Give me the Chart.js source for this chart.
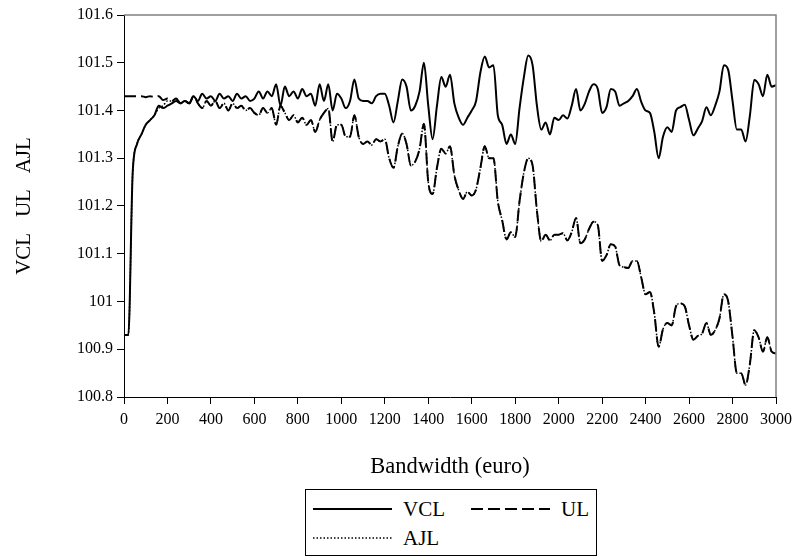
<!DOCTYPE html>
<html>
<head>
<meta charset="utf-8">
<title>VCL UL AJL</title>
<script src="https://cdn.jsdelivr.net/npm/chart.js@4.4.1/dist/chart.umd.min.js"></script>
<style>
  body { margin: 0; background: #fff; }
  .wrap { position: relative; width: 798px; height: 559px; }
  .legend_box {
    position: absolute; left: 305px; top: 489px; width: 292px; height: 67px;
    box-sizing: border-box; border: 1px solid #000; background: #fff;
    font-family: "Liberation Serif", "Times New Roman", serif; font-size: 21px; color: #000;
  }
  .legend_item { position: absolute; height: 24px; display: flex; align-items: center; white-space: nowrap; }
  .legend_item svg { display: block; margin-right: 11px; }
</style>
</head>
<body>
<div class="wrap">
  <canvas id="chart" width="798" height="559"></canvas>
  <div class="legend_box" id="legend"></div>
</div>
<script>
const bandwidth = [
    0, 20, 40, 60, 80, 100, 120, 140, 160, 180,
    200, 220, 240, 260, 280, 300, 320, 340, 360, 380,
    400, 420, 440, 460, 480, 500, 520, 540, 560, 580,
    600, 620, 640, 660, 680, 700, 720, 740, 760, 780,
    800, 820, 840, 860, 880, 900, 920, 940, 960, 980,
    1000, 1020, 1040, 1060, 1080, 1100, 1120, 1140, 1160, 1180,
    1200, 1220, 1240, 1260, 1280, 1300, 1320, 1340, 1360, 1380,
    1400, 1420, 1440, 1460, 1480, 1500, 1520, 1540, 1560, 1580,
    1600, 1620, 1640, 1660, 1680, 1700, 1720, 1740, 1760, 1780,
    1800, 1820, 1840, 1860, 1880, 1900, 1920, 1940, 1960, 1980,
    2000, 2020, 2040, 2060, 2080, 2100, 2120, 2140, 2160, 2180,
    2200, 2220, 2240, 2260, 2280, 2300, 2320, 2340, 2360, 2380,
    2400, 2420, 2440, 2460, 2480, 2500, 2520, 2540, 2560, 2580,
    2600, 2620, 2640, 2660, 2680, 2700, 2720, 2740, 2760, 2780,
    2800, 2820, 2840, 2860, 2880, 2900, 2920, 2940, 2960, 2980,
    3000
]

const vcl = [
    100.93, 100.93, 101.27, 101.33, 101.35, 101.37, 101.38, 101.39, 101.41, 101.405,
    101.41, 101.415, 101.42, 101.415, 101.42, 101.415, 101.43, 101.42, 101.435, 101.425,
    101.43, 101.42, 101.435, 101.425, 101.43, 101.42, 101.435, 101.425, 101.43, 101.42,
    101.425, 101.44, 101.425, 101.44, 101.43, 101.455, 101.41, 101.45, 101.43, 101.44,
    101.425, 101.445, 101.43, 101.435, 101.41, 101.455, 101.42, 101.455, 101.40, 101.435,
    101.425, 101.405, 101.42, 101.465, 101.425, 101.42, 101.42, 101.415, 101.43, 101.435,
    101.435, 101.41, 101.375, 101.42, 101.465, 101.45, 101.40, 101.41, 101.44, 101.50,
    101.41, 101.34, 101.41, 101.47, 101.45, 101.475, 101.415, 101.385, 101.37, 101.385,
    101.40, 101.42, 101.48, 101.513, 101.49, 101.495, 101.39, 101.37, 101.33, 101.35,
    101.33, 101.405, 101.47, 101.515, 101.495, 101.41, 101.36, 101.375, 101.35, 101.385,
    101.38, 101.39, 101.383, 101.41, 101.445, 101.40, 101.414, 101.44, 101.455, 101.445,
    101.395, 101.407, 101.445, 101.44, 101.41, 101.415, 101.42, 101.43, 101.445, 101.418,
    101.40, 101.395, 101.355, 101.30, 101.345, 101.365, 101.355, 101.40, 101.407, 101.412,
    101.38, 101.348, 101.362, 101.378, 101.407, 101.39, 101.41, 101.44, 101.495, 101.485,
    101.42, 101.36, 101.36, 101.335, 101.39, 101.464, 101.455, 101.43, 101.475, 101.45,
    101.453
]

const ul = [
    101.43, 101.43, 101.43, 101.43, 101.43, 101.428, 101.43, 101.428, 101.43, 101.422,
    101.425, 101.42, 101.425, 101.415, 101.42, 101.415, 101.43, 101.415, 101.405, 101.42,
    101.41, 101.42, 101.405, 101.415, 101.40, 101.415, 101.405, 101.41, 101.40, 101.405,
    101.395, 101.39, 101.405, 101.395, 101.405, 101.37, 101.41, 101.395, 101.38, 101.39,
    101.375, 101.385, 101.37, 101.38, 101.355, 101.38, 101.395, 101.404, 101.335, 101.37,
    101.37, 101.345, 101.345, 101.39, 101.345, 101.33, 101.335, 101.328, 101.34, 101.335,
    101.34, 101.30, 101.28, 101.325, 101.352, 101.33, 101.285, 101.293, 101.32, 101.372,
    101.25, 101.225, 101.28, 101.32, 101.31, 101.325, 101.265, 101.233, 101.215, 101.23,
    101.222, 101.235, 101.28, 101.325, 101.30, 101.30, 101.21, 101.17, 101.13, 101.145,
    101.135, 101.21, 101.27, 101.30, 101.285, 101.19, 101.126, 101.14, 101.128, 101.14,
    101.14, 101.143, 101.128, 101.145, 101.175, 101.122, 101.13, 101.152, 101.167, 101.16,
    101.085, 101.097, 101.12, 101.115, 101.076, 101.072, 101.07, 101.085, 101.085, 101.05,
    101.015, 101.02, 100.975, 100.905, 100.942, 100.955, 100.95, 100.99, 100.996, 100.99,
    100.95, 100.92, 100.928, 100.933, 100.955, 100.93, 100.94, 100.965, 101.015, 101.0,
    100.926, 100.85, 100.85, 100.825, 100.87, 100.94, 100.925, 100.895, 100.925, 100.895,
    100.891
]

const ajl = [
    100.93, 100.93, 101.27, 101.33, 101.35, 101.37, 101.38, 101.39, 101.405, 101.41,
    101.42, 101.42, 101.425, 101.415, 101.42, 101.415, 101.43, 101.415, 101.405, 101.42,
    101.41, 101.42, 101.405, 101.415, 101.40, 101.415, 101.405, 101.41, 101.40, 101.405,
    101.395, 101.39, 101.405, 101.395, 101.405, 101.37, 101.41, 101.395, 101.38, 101.39,
    101.375, 101.385, 101.37, 101.38, 101.355, 101.38, 101.395, 101.404, 101.335, 101.37,
    101.37, 101.345, 101.345, 101.39, 101.345, 101.33, 101.335, 101.328, 101.34, 101.335,
    101.34, 101.30, 101.28, 101.325, 101.352, 101.33, 101.285, 101.293, 101.32, 101.372,
    101.25, 101.225, 101.28, 101.32, 101.31, 101.325, 101.265, 101.233, 101.215, 101.23,
    101.222, 101.235, 101.28, 101.325, 101.30, 101.30, 101.21, 101.17, 101.13, 101.145,
    101.135, 101.21, 101.27, 101.30, 101.285, 101.19, 101.126, 101.14, 101.128, 101.14,
    101.14, 101.143, 101.128, 101.145, 101.175, 101.122, 101.13, 101.152, 101.167, 101.16,
    101.085, 101.097, 101.12, 101.115, 101.076, 101.072, 101.07, 101.085, 101.085, 101.05,
    101.015, 101.02, 100.975, 100.905, 100.942, 100.955, 100.95, 100.99, 100.996, 100.99,
    100.95, 100.92, 100.928, 100.933, 100.955, 100.93, 100.94, 100.965, 101.015, 101.0,
    100.926, 100.85, 100.85, 100.825, 100.87, 100.94, 100.925, 100.895, 100.925, 100.895,
    100.891
]

const xTicks = [0, 200, 400, 600, 800, 1000, 1200, 1400, 1600, 1800, 2000, 2200, 2400, 2600, 2800, 3000]
const xTickLabels = ['0', '200', '400', '600', '800', '1000', '1200', '1400', '1600', '1800', '2000', '2200', '2400', '2600', '2800', '3000']
const yTicks = [100.8, 100.9, 101, 101.1, 101.2, 101.3, 101.4, 101.5, 101.6]
const yTickLabels = ['100.8', '100.9', '101', '101.1', '101.2', '101.3', '101.4', '101.5', '101.6']

const seriesNames = ['VCL', 'UL', 'AJL']
const xTitle = 'Bandwidth (euro)'
const yTitle = 'VCL   UL   AJL'

const serif = '"Liberation Serif", "Times New Roman", serif'

const toPoints = values => values.map((v, i) => ({ x: bandwidth[i], y: v }))

// gray top and right edges of the plot frame
const framePlugin = {
    id: 'frame',
    afterDatasetsDraw(chart) {
        const { ctx, chartArea } = chart
        ctx.save()
        ctx.strokeStyle = '#808080'
        ctx.lineWidth = 1.5
        ctx.beginPath()
        ctx.moveTo(chartArea.left, chartArea.top)
        ctx.lineTo(chartArea.right, chartArea.top)
        ctx.lineTo(chartArea.right, chartArea.bottom)
        ctx.stroke()
        ctx.restore()
    }
}

const ctx = document.querySelector('#chart').getContext('2d')

const myChart = new Chart(ctx, {
    type: 'line',
    data: {
        datasets: [
            { label: seriesNames[0], data: toPoints(vcl), borderColor: '#000', borderWidth: 2, borderDash: [] },
            { label: seriesNames[1], data: toPoints(ul), borderColor: '#000', borderWidth: 2, borderDash: [12, 5] },
            { label: seriesNames[2], data: toPoints(ajl), borderColor: '#000', borderWidth: 1.5, borderDash: [1.5, 2] }
        ]
    },
    options: {
        responsive: false,
        animation: false,
        layout: { padding: { top: 15, right: 19, bottom: 72, left: 0 } },
        elements: {
            point: { radius: 0 },
            line: { cubicInterpolationMode: 'monotone', fill: false }
        },
        plugins: {
            legend: { display: false },
            tooltip: { enabled: false }
        },
        scales: {
            x: {
                type: 'linear',
                min: 0,
                max: 3000,
                afterFit: scale => { scale.height = 90 },
                afterBuildTicks: scale => { scale.ticks = xTicks.map(v => ({ value: v })) },
                ticks: {
                    autoSkip: false,
                    maxRotation: 0,
                    padding: 6,
                    color: '#000',
                    font: { family: serif, size: 16 },
                    callback: (value, index) => xTickLabels[index]
                },
                grid: { drawOnChartArea: false, tickLength: 7, color: '#000' },
                border: { color: '#000', width: 1 },
                title: {
                    display: true,
                    text: xTitle,
                    color: '#000',
                    font: { family: serif, size: 22.5 },
                    padding: { top: 0, bottom: 6 }
                }
            },
            y: {
                min: 100.8,
                max: 101.6,
                afterFit: scale => { scale.width = 124 },
                afterBuildTicks: scale => { scale.ticks = yTicks.map(v => ({ value: v })) },
                ticks: {
                    padding: 4,
                    color: '#000',
                    font: { family: serif, size: 16 },
                    callback: (value, index) => yTickLabels[index]
                },
                grid: { drawOnChartArea: false, tickLength: 7, color: '#000' },
                border: { color: '#000', width: 1 },
                title: {
                    display: true,
                    text: yTitle,
                    color: '#000',
                    font: { family: serif, size: 21 },
                    padding: { top: 12, bottom: 0 }
                }
            }
        }
    },
    plugins: [framePlugin]
})

// legend drawn as html, two items on the first row, one on the second
const legendBox = document.querySelector('#legend')
const legendSpots = [[7, 7], [165, 7], [7, 36]]
myChart.data.datasets.forEach((ds, i) => {
    const item = document.createElement('div')
    item.className = 'legend_item'
    item.style.left = legendSpots[i][0] + 'px'
    item.style.top = legendSpots[i][1] + 'px'
    item.innerHTML = `
        <svg width="79" height="6"><line x1="0" y1="3" x2="79" y2="3" stroke="#000"
            stroke-width="${ds.borderWidth}" stroke-dasharray="${ds.borderDash.join(' ')}"/></svg>
        <span>${ds.label}</span>`
    legendBox.appendChild(item)
})
</script>
</body>
</html>
